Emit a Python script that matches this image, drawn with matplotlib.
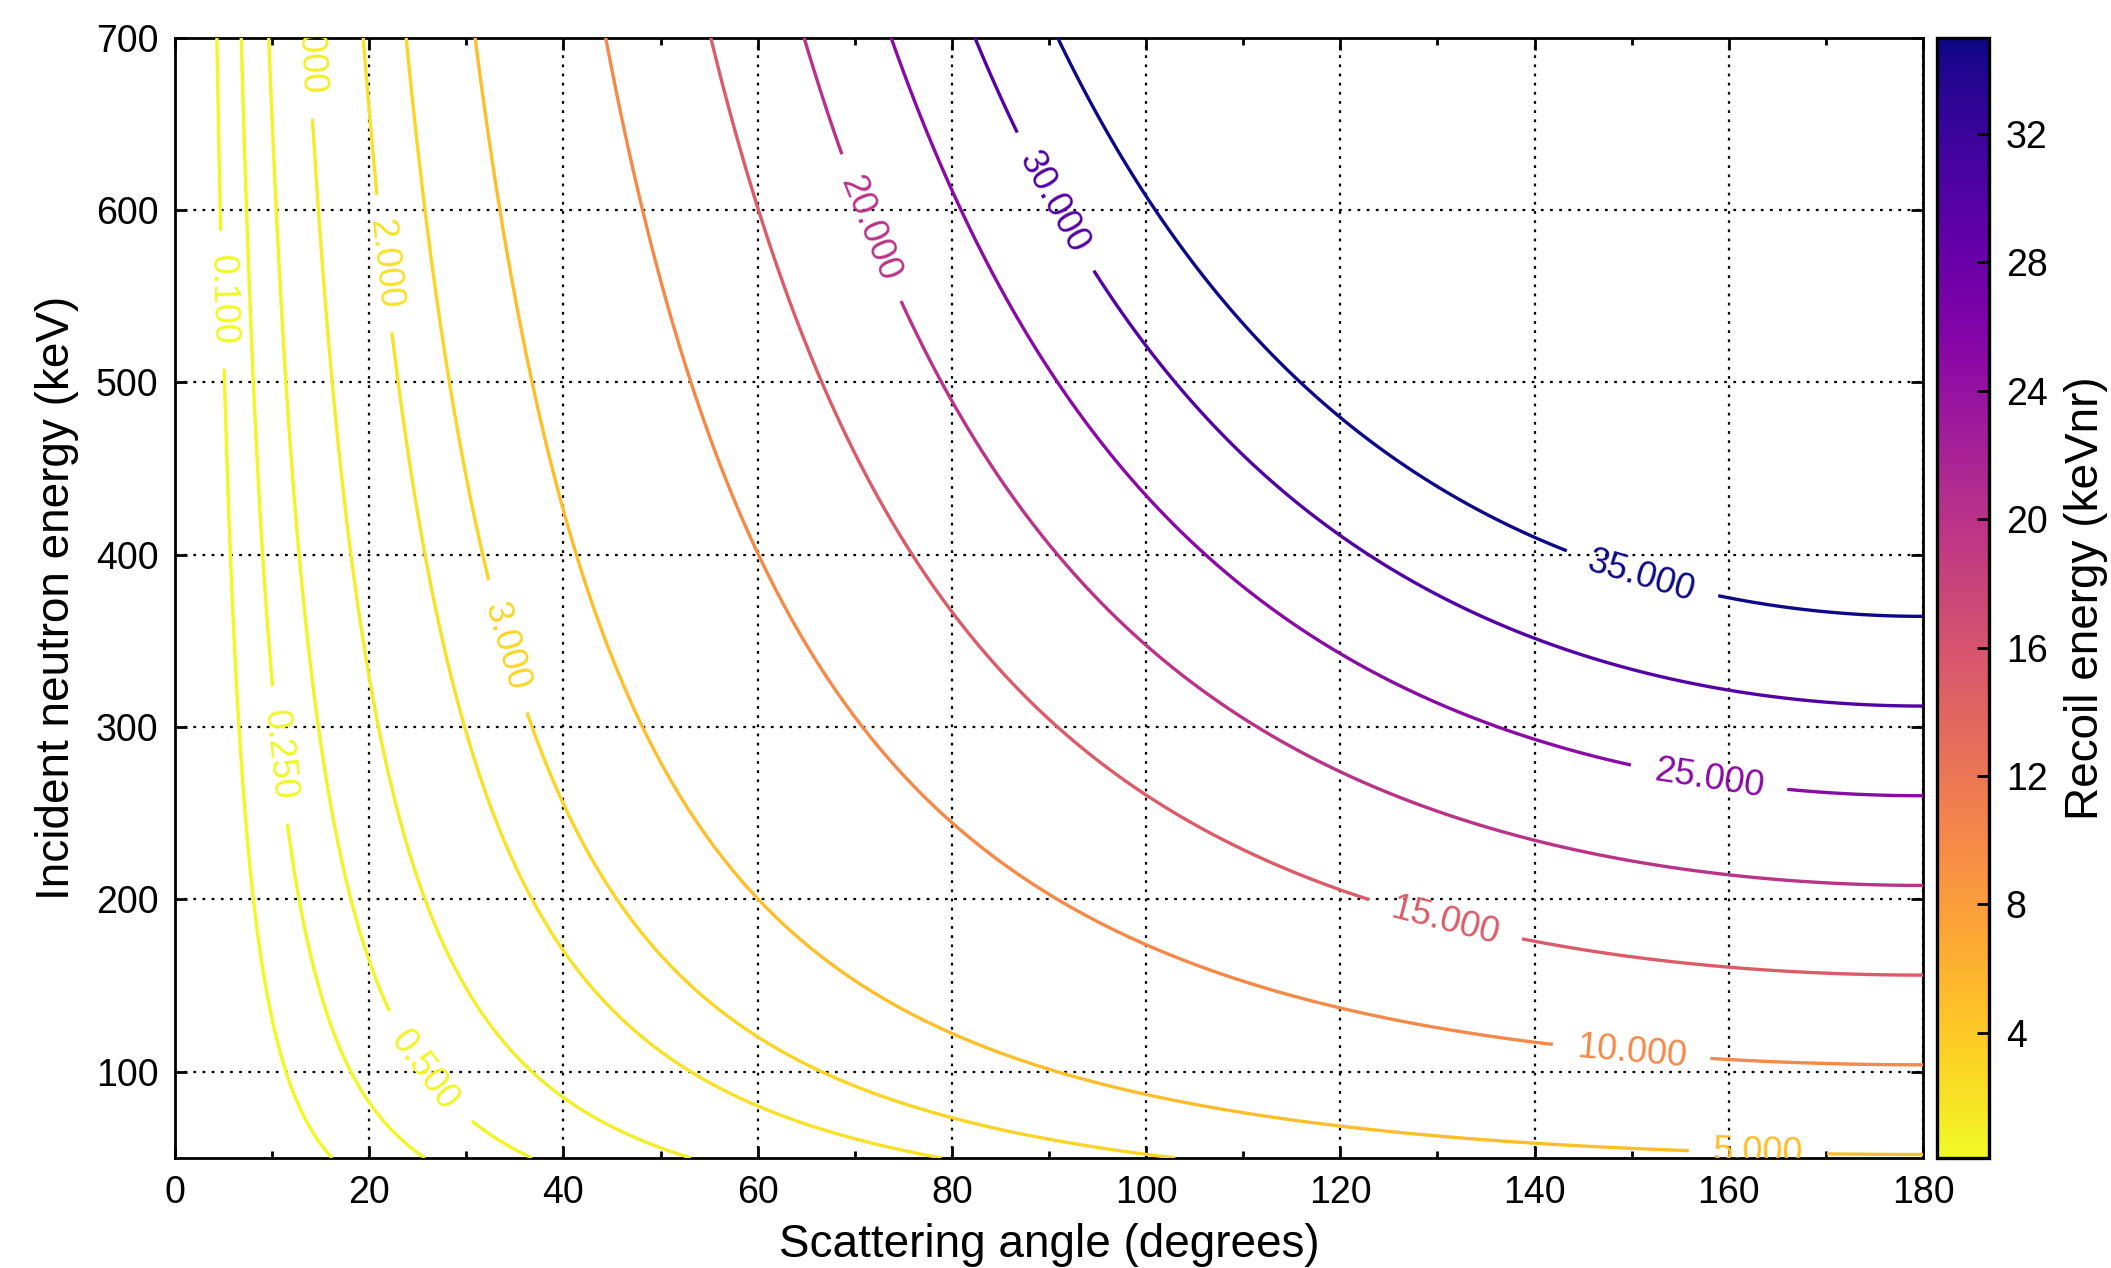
import numpy as np
import matplotlib
matplotlib.use("Agg")
import matplotlib.pyplot as plt
from matplotlib import cm, colors

plt.rcParams['font.family'] = ['Liberation Sans', 'DejaVu Sans']
plt.rcParams['lines.scale_dashes'] = False

# Masses (u) for neutron scattering off argon, and the plotted ranges
neutron_mass = 1.008665
target_mass = 39.948
angle_range = [0.0, 180.0]          # degrees
energy_range = [50.0, 700.0]        # keV
contour_levels = [0.1, 0.25, 0.5, 1.0, 2.0, 3.0, 5.0, 10.0, 15.0, 20.0, 25.0, 30.0, 35.0]
color_range = [0.1, 35.0]
x_ticks = [0, 20, 40, 60, 80, 100, 120, 140, 160, 180]
y_ticks = [100, 200, 300, 400, 500, 600, 700]
cbar_ticks = [4, 8, 12, 16, 20, 24, 28, 32]

# Elastic scattering kinematics: recoil energy vs. lab-frame neutron angle
theta = np.linspace(angle_range[0], angle_range[1], 901)
e_n = np.linspace(energy_range[0], energy_range[1], 801)
TH, EN = np.meshgrid(theta, e_n)
t = np.radians(TH)
m, M = neutron_mass, target_mass
ratio = ((m * np.cos(t) + np.sqrt(M**2 - (m * np.sin(t))**2)) / (m + M)) ** 2
E_recoil = EN * (1.0 - ratio)

fig = plt.figure(figsize=(2111 / 200, 1268 / 200), dpi=200)
ax = fig.add_axes([175 / 2111, 1 - 1158 / 1268, (1923 - 175) / 2111, (1158 - 37.7) / 1268])
cax = fig.add_axes([1937 / 2111, 1 - 1158 / 1268, (1989 - 1937) / 2111, (1158 - 37.7) / 1268])

norm = colors.Normalize(vmin=color_range[0], vmax=color_range[1])
cmap = plt.get_cmap('plasma_r')

cs = ax.contour(TH, EN, E_recoil, levels=contour_levels, cmap=cmap, norm=norm,
                linewidths=1.2, zorder=3)

# Hand-picked label spots along each curve (angle, energy)
label_spots = [(5.15, 548), (11.1, 284), (26.0, 102), (14.2, 693), (21.8, 569),
               (34.3, 347), (163.0, 54), (150.0, 112), (130.8, 188), (71.8, 590),
               (158.0, 272), (90.7, 605), (151.1, 389)]
labels = ax.clabel(cs, contour_levels, inline=True, fmt='%.3f', fontsize=13,
                   manual=label_spots, inline_spacing=24)
for txt in labels:
    txt.set_clip_on(True)
    txt.set_clip_path(ax.patch)

ax.set_xlim(angle_range)
ax.set_ylim(energy_range)
ax.set_xticks(x_ticks)
ax.set_yticks(y_ticks)
ax.xaxis.set_minor_locator(matplotlib.ticker.MultipleLocator(10))
ax.tick_params(which='both', direction='in', top=True, right=True, labelsize=13.5, pad=6)
ax.tick_params(which='major', length=4.3, width=1.0)
ax.tick_params(which='minor', length=2.5, width=1.0)
ax.grid(True, which='major', color='k', linestyle=(0, (1, 2.3)), linewidth=0.8, zorder=1)
for sp in ax.spines.values():
    sp.set_linewidth(1.0)

ax.set_xlabel('Scattering angle (degrees)', fontsize=16.5, labelpad=4.5)
ax.set_ylabel('Incident neutron energy (keV)', fontsize=16.5, labelpad=6)

sm = cm.ScalarMappable(norm=norm, cmap=cmap)
sm.set_array([])
cbar = fig.colorbar(sm, cax=cax, ticks=cbar_ticks)
cbar.outline.set_linewidth(1.2)
cax.tick_params(direction='in', length=4.3, width=1.0, labelsize=13.5, pad=6)
cbar.set_label('Recoil energy (keVnr)', fontsize=16.5, labelpad=6)

fig.savefig('out.png', dpi=200)
